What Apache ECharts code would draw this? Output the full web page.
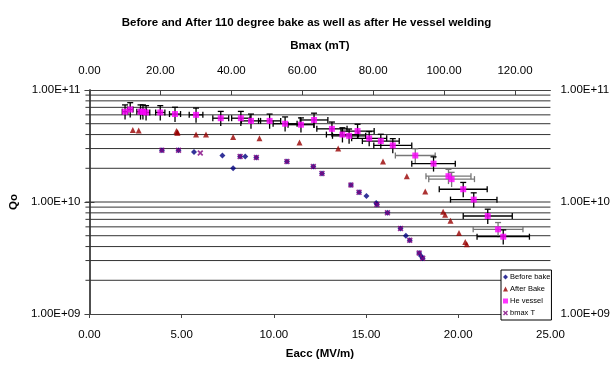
<!DOCTYPE html>
<html lang="en">
<head>
  <meta charset="UTF-8">
  <title>Qo vs Eacc</title>
  <script src="https://cdn.jsdelivr.net/npm/echarts@6/dist/echarts.min.js"></script>
  <style>
    html, body { margin: 0; padding: 0; background: #fff; }
    #chart { width: 613px; height: 365px; }
  </style>
</head>
<body>
  <div id="chart"></div>
  <script>
    // Before bake
    var beforeE = [3.93, 4.83, 5.67, 7.21, 7.79, 8.17, 8.45, 9.05, 10.71, 12.14, 12.61, 14.18, 14.62, 15.02, 15.55, 15.59, 16.16, 16.87, 17.16, 17.37, 17.88, 17.98, 18.07];
    var beforeQ = [2.9e10, 2.9e10, 2.8e10, 2.6e10, 2.0e10, 2.55e10, 2.55e10, 2.5e10, 2.3e10, 2.07e10, 1.8e10, 1.42e10, 1.22e10, 1.13e10, 9.8e9, 9.5e9, 8.0e9, 5.8e9, 5.0e9, 4.55e9, 3.5e9, 3.3e9, 3.15e9];

    // After bake
    var afterE = [2.35, 2.67, 4.72, 4.76, 4.78, 5.78, 6.32, 7.79, 9.22, 11.39, 13.49, 15.92, 17.21, 18.21, 19.18, 19.29, 19.58, 20.04, 20.38, 20.46];
    var afterQ = [4.4e10, 4.35e10, 4.3e10, 4.15e10, 4.2e10, 4.0e10, 4.0e10, 3.8e10, 3.7e10, 3.4e10, 3.0e10, 2.3e10, 1.7e10, 1.24e10, 8.2e9, 7.7e9, 6.8e9, 5.3e9, 4.4e9, 4.2e9];

    // He vessel (with error bars)
    var heE = [1.93, 2.21, 2.77, 2.90, 3.07, 3.84, 4.64, 5.78, 7.12, 8.21, 8.76, 9.77, 10.61, 11.47, 12.18, 13.15, 13.72, 14.08, 14.54, 15.17, 15.80, 16.45, 17.67, 18.66, 19.47, 19.64, 20.27, 20.84, 21.60, 22.16, 22.44];
    var heQ = [6.4e10, 6.7e10, 6.4e10, 6.4e10, 6.3e10, 6.3e10, 6.1e10, 6.0e10, 5.6e10, 5.6e10, 5.3e10, 5.3e10, 5.0e10, 4.9e10, 5.4e10, 4.5e10, 4.0e10, 3.9e10, 4.3e10, 3.7e10, 3.5e10, 3.2e10, 2.6e10, 2.2e10, 1.7e10, 1.6e10, 1.3e10, 1.05e10, 7.5e9, 5.7e9, 4.9e9];
    var heErrE = [0.15, 0.15, 0.2, 0.2, 0.2, 0.25, 0.3, 0.37, 0.43, 0.5, 0.52, 0.6, 0.65, 0.7, 0.75, 0.82, 0.87, 0.9, 0.9, 0.95, 1.0, 1.03, 1.08, 1.18, 1.22, 1.24, 1.3, 1.26, 1.33, 1.35, 1.42];
    var heErrColor = ['#000', '#000', '#000', '#000', '#000', '#000', '#000', '#000', '#000', '#000', '#000', '#000', '#000', '#000', '#000', '#000', '#000', '#000', '#000', '#000', '#000', '#000', '#777', '#000', '#777', '#777', '#000', '#000', '#000', '#777', '#000'];
    var qErrRel = 0.15;

    // bmax T
    var bmaxE = [3.93, 4.83, 6.01, 8.17, 9.05, 10.71, 12.14, 12.61, 14.18, 14.62, 15.59, 16.16, 16.87, 17.37, 17.88, 18.07];
    var bmaxQ = [2.9e10, 2.9e10, 2.74e10, 2.55e10, 2.5e10, 2.3e10, 2.07e10, 1.8e10, 1.42e10, 1.22e10, 9.5e9, 8.0e9, 5.8e9, 4.55e9, 3.5e9, 3.15e9];

    // horizontal grid lines (major + minor of the log axis)
    var gridQ = [2e9, 3e9, 4e9, 5e9, 6e9, 7e9, 8e9, 9e9, 1e10, 2e10, 3e10, 4e10, 5e10, 6e10, 7e10, 8e10, 9e10];

    var FONT = "'Liberation Sans', Arial, sans-serif";
    var X_MARK = 'path://M0,2L2,0L5,3L8,0L10,2L7,5L10,8L8,10L5,7L2,10L0,8L3,5Z';

    function pairs(xs, ys) {
      return xs.map(function (x, i) { return [x, ys[i]]; });
    }
    function sci(v) {
      var e = Math.round(Math.log10(v));
      var m = v / Math.pow(10, e);
      return m.toFixed(2) + 'E+' + (e < 10 ? '0' : '') + e;
    }

    var chart = echarts.init(document.getElementById('chart'));

    chart.setOption({
      animation: false,
      backgroundColor: '#fff',
      textStyle: { fontFamily: FONT },
      title: {
        text: 'Before and After 110 degree bake as well as after He vessel welding',
        left: 'center',
        top: 12,
        textStyle: { fontSize: 11.5, fontWeight: 'bold', color: '#000', fontFamily: FONT }
      },
      legend: {
        orient: 'vertical',
        left: 501,
        top: 270,
        padding: [3, 1, 3, 2],
        itemGap: 4,
        itemWidth: 5,
        itemHeight: 5,
        borderColor: '#000',
        borderWidth: 1,
        backgroundColor: '#fff',
        textStyle: { fontSize: 7.5, color: '#000', fontFamily: FONT, padding: [0, 0, 0, -3] },
        data: ['Before bake', 'After Bake', 'He vessel', 'bmax T']
      },
      grid: { left: 86, right: 61, top: 90, bottom: 49 },
      xAxis: [
        {
          type: 'value', position: 'bottom', min: 0, max: 25, interval: 5,
          name: 'Eacc (MV/m)', nameLocation: 'middle', nameGap: 34,
          nameTextStyle: { fontSize: 11.5, fontWeight: 'bold', color: '#000' },
          axisLine: { lineStyle: { color: '#444', width: 1 } },
          axisTick: { show: true, length: 4, lineStyle: { color: '#444' } },
          axisLabel: { fontSize: 11.5, color: '#000', margin: 15, formatter: function (v) { return v.toFixed(2); } },
          splitLine: { show: false }
        },
        {
          type: 'value', position: 'top', min: 0, max: 130, interval: 20,
          name: 'Bmax (mT)', nameLocation: 'middle', nameGap: 38,
          nameTextStyle: { fontSize: 11.5, fontWeight: 'bold', color: '#000' },
          axisLine: { lineStyle: { color: '#444', width: 1 } },
          axisTick: { show: true, inside: true, length: 5, lineStyle: { color: '#444' } },
          axisLabel: {
            fontSize: 11.5, color: '#000', margin: 13, showMaxLabel: false,
            formatter: function (v) { return v % 20 === 0 ? v.toFixed(2) : ''; }
          },
          splitLine: { show: false }
        }
      ],
      yAxis: [
        {
          type: 'log', logBase: 10, min: 1e9, max: 1e11, position: 'left',
          name: 'Qo', nameLocation: 'middle', nameGap: 66, nameRotate: 90,
          nameTextStyle: { fontSize: 11.5, fontWeight: 'bold', color: '#000' },
          axisLine: { show: true, lineStyle: { color: '#444', width: 1.5 } },
          axisTick: { show: true, length: 5, lineStyle: { color: '#444' } },
          axisLabel: { fontSize: 11.5, color: '#000', margin: 9, formatter: sci },
          splitLine: { show: false }
        },
        {
          type: 'log', logBase: 10, min: 1e9, max: 1e11, position: 'right',
          axisLine: { show: true, lineStyle: { color: '#444', width: 1.5 } },
          axisTick: { show: true, length: 5, lineStyle: { color: '#444' } },
          axisLabel: { fontSize: 11.5, color: '#000', margin: 10, formatter: sci },
          splitLine: { show: false }
        }
      ],
      series: [
        {
          type: 'custom', silent: true, z: 1,
          data: gridQ.map(function (q) { return [0, q]; }),
          renderItem: function (params, api) {
            var q = api.value(1);
            var p0 = api.coord([0, q]);
            var p1 = api.coord([25, q]);
            return {
              type: 'line',
              shape: { x1: p0[0] - 4, y1: p0[1], x2: p1[0], y2: p1[1] },
              style: { stroke: '#333', lineWidth: 1 }
            };
          }
        },
        {
          type: 'custom', silent: true, z: 3,
          data: heE.map(function (e, i) { return [e, heQ[i], heErrE[i]]; }),
          renderItem: function (params, api) {
            var e = api.value(0), q = api.value(1), dx = api.value(2);
            var col = heErrColor[params.dataIndex];
            var l = api.coord([e - dx, q]);
            var r = api.coord([e + dx, q]);
            var t = api.coord([e, q * (1 + qErrRel)]);
            var b = api.coord([e, q * (1 - qErrRel)]);
            var st = { stroke: col, lineWidth: 1.3 };
            return {
              type: 'group',
              children: [
                { type: 'line', shape: { x1: l[0], y1: l[1], x2: r[0], y2: r[1] }, style: st },
                { type: 'line', shape: { x1: l[0], y1: l[1] - 3, x2: l[0], y2: l[1] + 3 }, style: st },
                { type: 'line', shape: { x1: r[0], y1: r[1] - 3, x2: r[0], y2: r[1] + 3 }, style: st },
                { type: 'line', shape: { x1: t[0], y1: t[1], x2: b[0], y2: b[1] }, style: st },
                { type: 'line', shape: { x1: t[0] - 3, y1: t[1], x2: t[0] + 3, y2: t[1] }, style: st }
              ]
            };
          }
        },
        {
          name: 'Before bake', type: 'scatter', z: 4,
          symbol: 'diamond', symbolSize: 6,
          itemStyle: { color: '#000080' },
          data: pairs(beforeE, beforeQ)
        },
        {
          name: 'After Bake', type: 'scatter', z: 4,
          symbol: 'triangle', symbolSize: 6,
          itemStyle: { color: '#990000' },
          data: pairs(afterE, afterQ)
        },
        {
          name: 'He vessel', type: 'scatter', z: 5,
          symbol: 'rect', symbolSize: 6,
          itemStyle: { color: '#ff00ff' },
          data: pairs(heE, heQ)
        },
        {
          name: 'bmax T', type: 'scatter', z: 5,
          symbol: X_MARK, symbolSize: 6,
          itemStyle: { color: '#800080' },
          data: pairs(bmaxE, bmaxQ)
        }
      ]
    });
  </script>
</body>
</html>
